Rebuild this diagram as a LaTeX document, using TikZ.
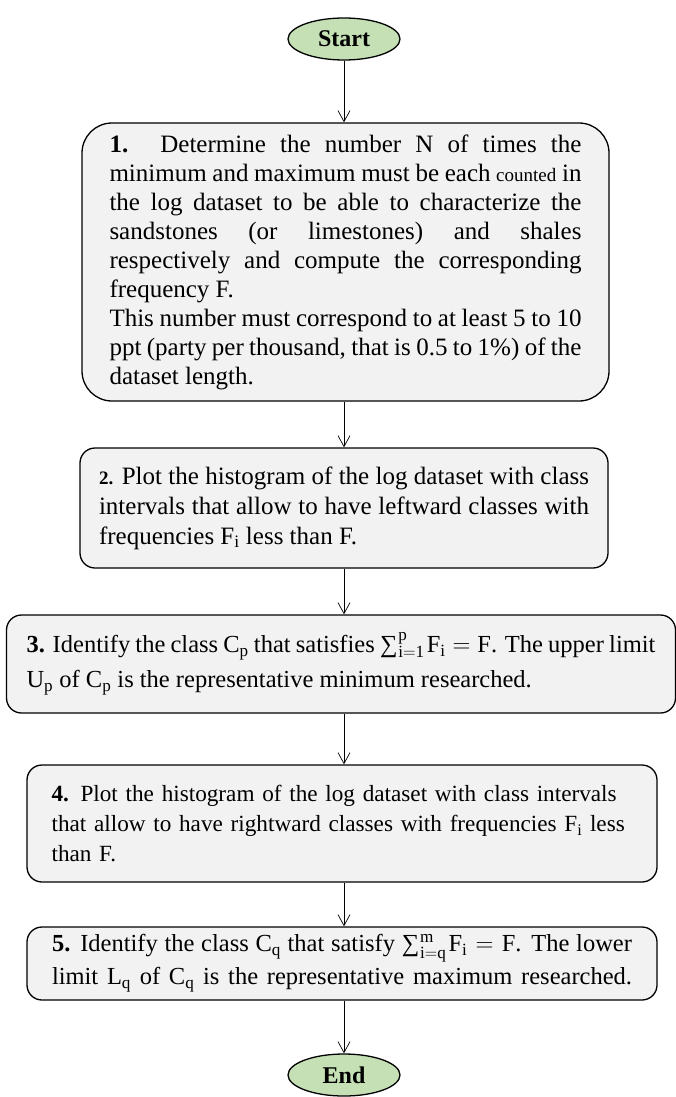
\documentclass[tikz,border=0pt]{standalone}
\usepackage{fontspec}
\setmainfont{Liberation Serif}
\usetikzlibrary{shapes.geometric,arrows.meta}
\definecolor{termgreen}{HTML}{C5E0B4}
\definecolor{procgray}{HTML}{F2F2F2}
\newcommand\myparfix{\parindent=0pt\relax\emergencystretch=20pt\relax\hyphenpenalty=10000\relax}
\newcommand\myfill{\parfillskip=0pt\relax}
\newcommand\mysum[2]{∑\kern1pt${}^{\mathrm{#2}}_{\mathrm{#1}}$\kern2pt}
\begin{document}
\begin{tikzpicture}[x=1pt,y=-1pt,
  term/.style={ellipse,draw=black,line width=1.3pt,fill=termgreen,minimum width=112pt,minimum height=42pt,inner sep=0pt,font=\fontsize{24}{26}\selectfont\bfseries},
  proc/.style={rectangle,draw=black,line width=1.3pt,fill=procgray,inner sep=0pt,font=\fontsize{25}{29}\selectfont\myparfix},
  txt/.style={inner sep=0pt,font=\fontsize{23.2}{30}\selectfont\myparfix},
  arr/.style={draw=black,line width=0.7pt,-{Straight Barb[length=11pt,width=12pt]}}]
\useasboundingbox (0,0) rectangle (676,1097);

\node[term] (start) at (344,39) {Start};

\node[proc,rounded corners=30pt,minimum width=527pt,minimum height=278pt,text width=472pt,align=justify] (b1) at (345.5,262)
{\textbf{1.} Determine the number N of times the\linebreak
minimum and maximum must be each {\fontsize{19}{29}\selectfont counted} in\linebreak
the log dataset to be able to characterize the\linebreak
sandstones (or limestones) and shales\linebreak
respectively and compute the corresponding\linebreak
frequency F.\par
This number must correspond to at least 5 to 10\linebreak
ppt (party per thousand, that is 0.5 to 1\%) of the\linebreak
dataset length.};

\node[proc,rounded corners=15pt,minimum width=528pt,minimum height=120pt,text width=490pt,align=justify,font=\fontsize{25}{30}\selectfont\myparfix] (b2) at (344,508)
{{\fontsize{19}{30}\selectfont\textbf{2.}} Plot the histogram of the log dataset with class\linebreak
intervals that allow to have leftward classes with\linebreak
frequencies $\mathrm{F_i}$ less than F.};

\node[proc,rounded corners=15pt,minimum width=669pt,minimum height=98pt,text width=629pt,align=justify,font=\fontsize{24.5}{35}\selectfont\myparfix] (b3) at (341,664)
{\textbf{3.} Identify the class $\mathrm{C_p}$ that satisfies \mysum{i=1}{p}$\mathrm{F_i}=\mathrm{F}$. The upper limit\linebreak
$\mathrm{U_p}$ of $\mathrm{C_p}$ is the representative minimum researched.};

\node[proc,rounded corners=15pt,minimum width=630pt,minimum height=117pt] (b4) at (342,823.5) {};
\node[txt,anchor=west,text width=610pt,align=left] (b4t) at ([xshift=25pt]b4.west)
{\textbf{4.} Plot the histogram of the log dataset with class intervals\\
that allow to have rightward classes with frequencies $\mathrm{F_i}$ less\\
than F.};

\node[proc,rounded corners=15pt,minimum width=630pt,minimum height=73pt,text width=580pt,align=justify,font=\fontsize{24.5}{33}\selectfont\myparfix\myfill] (b5) at (342,963.5)
{\textbf{5.} Identify the class $\mathrm{C_q}$ that satisfy \mysum{i=q}{m}$\mathrm{F_i}=\mathrm{F}$. The lower\linebreak
limit $\mathrm{L_q}$ of $\mathrm{C_q}$ is the representative maximum researched.};

\node[term] (end) at (344,1075) {End};

\draw[arr] (start) -- (start |- b1.north);
\draw[arr] (start |- b1.south) -- (start |- b2.north);
\draw[arr] (start |- b2.south) -- (start |- b3.north);
\draw[arr] (start |- b3.south) -- (start |- b4.north);
\draw[arr] (start |- b4.south) -- (start |- b5.north);
\draw[arr] (start |- b5.south) -- (end);
\end{tikzpicture}
\end{document}
